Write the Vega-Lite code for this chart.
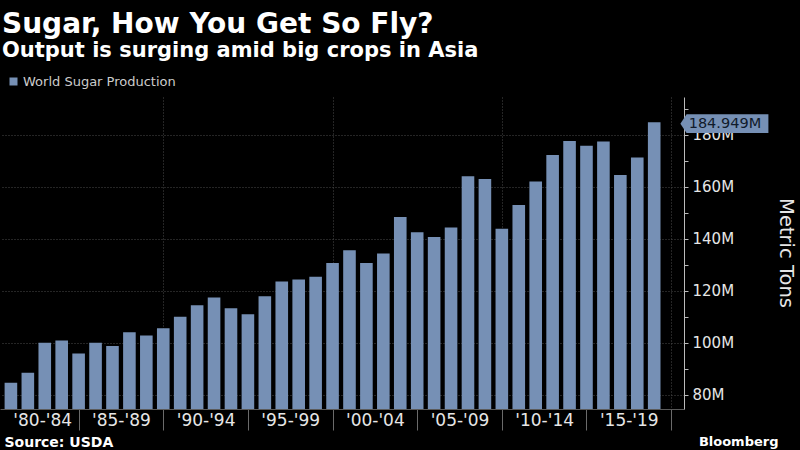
{
  "$schema": "https://vega.github.io/schema/vega-lite/v6.json",
  "width": 684,
  "height": 312,
  "autosize": "none",
  "padding": {"left": 0, "top": 97, "right": 116, "bottom": 41},
  "background": "#000000",
  "config": {"view": {"stroke": null}, "font": "DejaVu Sans"},
  "title": {
    "text": "Sugar, How You Get So Fly?",
    "subtitle": "Output is surging amid big crops in Asia",
    "anchor": "start",
    "frame": "group",
    "dx": 2,
    "offset": 14,
    "font": "DejaVu Sans",
    "fontSize": 28,
    "fontWeight": "bold",
    "color": "#ffffff",
    "subtitleFont": "DejaVu Sans",
    "subtitleFontSize": 21,
    "subtitleFontWeight": "bold",
    "subtitleColor": "#ffffff",
    "subtitlePadding": 1
  },
  "data": {
    "values": [
      {"year": 1981, "tons": 84.7},
      {"year": 1982, "tons": 88.6},
      {"year": 1983, "tons": 100.1},
      {"year": 1984, "tons": 101.0},
      {"year": 1985, "tons": 96.0},
      {"year": 1986, "tons": 100.1},
      {"year": 1987, "tons": 98.8},
      {"year": 1988, "tons": 104.1},
      {"year": 1989, "tons": 102.9},
      {"year": 1990, "tons": 105.7},
      {"year": 1991, "tons": 110.1},
      {"year": 1992, "tons": 114.5},
      {"year": 1993, "tons": 117.5},
      {"year": 1994, "tons": 113.4},
      {"year": 1995, "tons": 111.1},
      {"year": 1996, "tons": 118.0},
      {"year": 1997, "tons": 123.7},
      {"year": 1998, "tons": 124.4},
      {"year": 1999, "tons": 125.5},
      {"year": 2000, "tons": 130.8},
      {"year": 2001, "tons": 135.7},
      {"year": 2002, "tons": 130.8},
      {"year": 2003, "tons": 134.4},
      {"year": 2004, "tons": 148.5},
      {"year": 2005, "tons": 142.6},
      {"year": 2006, "tons": 140.8},
      {"year": 2007, "tons": 144.4},
      {"year": 2008, "tons": 164.1},
      {"year": 2009, "tons": 163.1},
      {"year": 2010, "tons": 143.9},
      {"year": 2011, "tons": 153.1},
      {"year": 2012, "tons": 162.1},
      {"year": 2013, "tons": 172.3},
      {"year": 2014, "tons": 177.7},
      {"year": 2015, "tons": 175.9},
      {"year": 2016, "tons": 177.5},
      {"year": 2017, "tons": 164.6},
      {"year": 2018, "tons": 171.3},
      {"year": 2019, "tons": 184.949}
    ]
  },
  "encoding": {
    "y": {
      "field": "tons",
      "type": "quantitative",
      "scale": {"domain": [74.615, 194.615], "nice": false, "zero": false},
      "axis": {
        "orient": "right",
        "values": [80, 90, 100, 110, 120, 130, 140, 150, 160, 170, 180, 190],
        "labelExpr": "datum.value % 20 == 0 ? datum.value + 'M' : ''",
        "labelFontSize": 15,
        "labelColor": "#e6e6e6",
        "labelPadding": 4,
        "labelOverlap": false,
        "labelBaseline": "middle",
        "tickSize": 4,
        "tickColor": "#bbbbbb",
        "domainColor": "#bbbbbb",
        "grid": true,
        "gridColor": "#4a4a4a",
        "gridDash": [1, 2],
        "gridOpacity": {"condition": {"test": "datum.value % 20 == 0", "value": 1}, "value": 0},
        "title": "Metric Tons",
        "titleAngle": 90,
        "titleX": 95,
        "titleY": 155.5,
        "titleAlign": "center",
        "titleBaseline": "alphabetic",
        "titleFontSize": 19.5,
        "titleFontWeight": "normal",
        "titleColor": "#e6e6e6"
      }
    }
  },
  "layer": [
    {
      "mark": {"type": "bar", "width": 12.6, "clip": true},
      "encoding": {
        "x": {
          "field": "year",
          "type": "quantitative",
          "scale": {"domain": [1980.651, 2020.465], "nice": false, "zero": false},
          "axis": {
            "orient": "bottom",
            "values": [1982.85, 1985, 1987.5, 1990, 1992.5, 1995, 1997.5, 2000, 2002.5, 2005, 2007.5, 2010, 2012.5, 2015, 2017.5, 2020],
            "labelExpr": "datum.value % 5 == 0 ? '' : \"'\" + substring(toString(floor(datum.value/5)*5), 2, 4) + \"-'\" + substring(toString(floor(datum.value/5)*5 + 4), 2, 4)",
            "labelFontSize": 17,
            "labelColor": "#e6e6e6",
            "labelPadding": -18,
            "labelBaseline": "top",
            "labelAlign": "center",
            "labelOverlap": false,
            "labelFlush": false,
            "labelBound": false,
            "tickSize": 21,
            "tickColor": "#6a6a6a",
            "tickOpacity": {"condition": {"test": "datum.value % 5 == 0", "value": 1}, "value": 0},
            "grid": true,
            "gridColor": "#4a4a4a",
            "gridDash": [1, 2],
            "gridOpacity": {"condition": {"test": "datum.value % 10 == 0", "value": 1}, "value": 0},
            "domain": true,
            "domainColor": "#5a5a5a",
            "title": "Source: USDA",
            "titleAnchor": "start",
            "titleAlign": "left",
            "titleX": 4,
            "titleY": 37,
            "titleBaseline": "alphabetic",
            "titleFontSize": 14,
            "titleFontWeight": "bold",
            "titleColor": "#ffffff"
          }
        },
        "color": {
          "datum": "World Sugar Production",
          "type": "nominal",
          "scale": {"range": ["#7690b5"]},
          "legend": {
            "orient": "none",
            "legendX": 7,
            "legendY": -22,
            "title": null,
            "symbolType": "square",
            "symbolSize": 64,
            "symbolStrokeWidth": 0,
            "labelFontSize": 13,
            "labelColor": "#cccccc",
            "labelOffset": 3,
            "padding": 0
          }
        }
      }
    },
    {
      "transform": [{"filter": "datum.year == 2019"}],
      "mark": {
        "type": "point",
        "shape": "M -1 0 L -0.86 -0.215 L 1 -0.215 L 1 0.215 L -0.86 0.215 Z",
        "size": 7744,
        "filled": true,
        "color": "#7690b5",
        "opacity": 1,
        "strokeWidth": 0,
        "xOffset": 70.2,
        "yOffset": 1.5
      },
      "encoding": {
        "x": {
          "field": "year",
          "type": "quantitative",
          "scale": {"domain": [1980.651, 2020.465], "nice": false, "zero": false},
          "axis": {
            "orient": "bottom",
            "labels": false,
            "ticks": false,
            "domain": false,
            "grid": false,
            "title": "Bloomberg",
            "titleAlign": "right",
            "titleX": 778,
            "titleY": 36,
            "titleBaseline": "alphabetic",
            "titleFontSize": 13,
            "titleFontWeight": "bold",
            "titleColor": "#ffffff"
          }
        }
      }
    },
    {
      "transform": [
        {"filter": "datum.year == 2019"},
        {"calculate": "format(datum.tons, '.3f') + 'M'", "as": "label"}
      ],
      "mark": {
        "type": "text",
        "xOffset": 70.7,
        "yOffset": 1.5,
        "fontSize": 14.5,
        "color": "#111b2b",
        "baseline": "middle",
        "align": "center"
      },
      "encoding": {
        "x": {"field": "year", "type": "quantitative", "axis": null},
        "text": {"field": "label"}
      }
    }
  ],
  "resolve": {"axis": {"x": "independent"}}
}
